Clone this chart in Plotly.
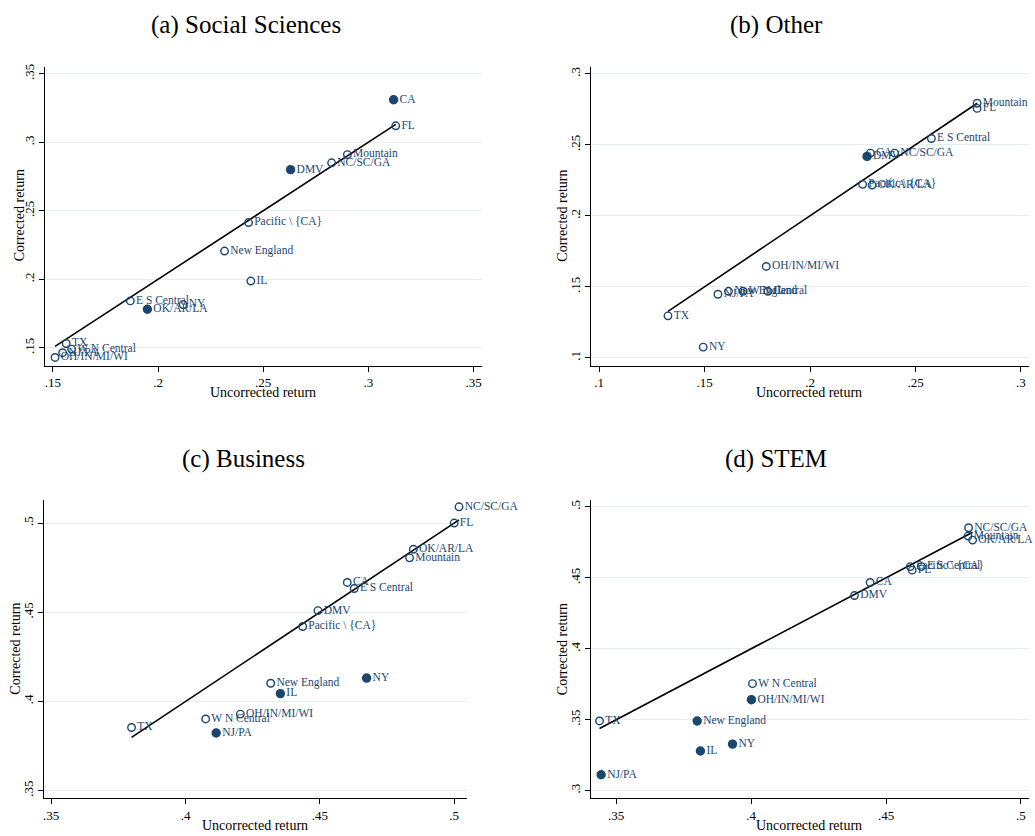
import plotly.graph_objects as go

regions = ["CA", "FL", "Mountain", "NC/SC/GA", "DMV", "Pacific \\ {CA}", "New England", "IL",
           "E S Central", "NY", "OK/AR/LA", "TX", "W N Central", "NJ/PA", "OH/IN/MI/WI"]

panel_titles = ["(a) Social Sciences", "(b) Other", "(c) Business", "(d) STEM"]

# Social Sciences
soc_uncorr = [.312, .313, .290, .2825, .263, .243, .2316, .2441, .1868, .2119, .1949, .1563, .1589, .1546, .151]
soc_corr = [.331, .312, .291, .285, .280, .2414, .2206, .1987, .1842, .1815, .1781, .1531, .149, .1464, .1429]
soc_sig = [1, 0, 0, 0, 1, 0, 0, 0, 0, 0, 1, 0, 0, 0, 0]

# Other
oth_uncorr = [.2286, .2792, .2792, .2401, .227, .2249, .1613, .180, .2575, .1493, .2294, .1326, .1682, .1563, .1792]
oth_corr = [.2441, .2756, .2792, .2441, .2418, .2221, .1468, .1468, .2544, .1075, .2216, .1295, .1468, .1447, .1643]
oth_sig = [0, 0, 0, 0, 1, 0, 0, 0, 0, 0, 0, 0, 0, 0, 0]

# Business
bus_uncorr = [.4602, .500, .4834, .5018, .4493, .4436, .4317, .4353, .4628, .4674, .4848, .3799, .4075, .4114, .4204]
bus_corr = [.4667, .500, .4805, .5091, .4509, .442, .4102, .4044, .4633, .4131, .4853, .3854, .3902, .3823, .3929]
bus_sig = [0, 0, 0, 0, 0, 0, 0, 1, 0, 1, 0, 0, 0, 1, 0]

# STEM
stem_uncorr = [.4441, .4597, .4804, .4806, .4383, .459, .380, .3812, .4631, .3931, .4821, .3438, .4005, .3444, .4001]
stem_corr = [.4467, .4554, .4794, .4853, .4375, .4579, .3491, .3279, .4579, .3328, .4766, .3491, .3754, .3112, .3641]
stem_sig = [0, 0, 0, 0, 0, 0, 1, 1, 0, 1, 0, 0, 0, 1, 1]

x_ticks = [[.15, .2, .25, .3, .35], [.1, .15, .2, .25, .3], [.35, .4, .45, .5], [.35, .4, .45, .5]]
y_ticks = [[.15, .2, .25, .3, .35], [.1, .15, .2, .25, .3], [.35, .4, .45, .5], [.3, .35, .4, .45, .5]]

panels = [(soc_uncorr, soc_corr, soc_sig), (oth_uncorr, oth_corr, oth_sig),
          (bus_uncorr, bus_corr, bus_sig), (stem_uncorr, stem_corr, stem_sig)]

W, H = 1035, 836
NAVY = "#1a476f"
SERIF = "Liberation Serif, Times New Roman, serif"

# panel geometry in pixels: (left, right, top, bottom)
geom = [(44, 481, 64, 364), (591, 1029, 64, 364), (43, 466, 499, 798), (591, 1029, 499, 798)]
xr = [(.1462, .3538), (.0963, .3038), (.3473, .5046), (.3408, .503)]
yr = [(.1369, .3551), (.0944, .3049), (.3458, .5128), (.2947, .5047)]
title_pos = [(245, 22), (776, 22), (243, 458), (776, 458)]
xtitle_pos = [(262, 391), (809, 391), (254, 825), (809, 825)]
ytitle_pos = [(18, 213), (562, 213), (15, 648), (562, 648)]


def fmt(v):
    s = ("%g" % v)
    return s[1:] if s.startswith("0") else s


def px(x, y):
    return x / W, 1 - y / H


fig = go.Figure()
layout = dict(width=W, height=H, margin=dict(l=0, r=0, t=0, b=0),
              paper_bgcolor="white", plot_bgcolor="white", showlegend=False,
              font=dict(family=SERIF, color="black"))
annotations = []

for i, (ux, cy, sig) in enumerate(panels):
    n = "" if i == 0 else str(i + 1)
    xa, ya = "x" + n, "y" + n
    l, r, t, b = geom[i]
    # 45-degree reference line
    lo, hi = min(ux), max(ux)
    fig.add_trace(go.Scatter(x=[lo, hi], y=[lo, hi], mode="lines",
                             line=dict(color="black", width=1.6), xaxis=xa, yaxis=ya,
                             hoverinfo="skip"))
    for filled in (0, 1):
        idx = [k for k in range(len(regions)) if sig[k] == filled]
        fig.add_trace(go.Scatter(
            x=[ux[k] for k in idx], y=[cy[k] for k in idx],
            text=[regions[k] for k in idx], mode="markers+text",
            textposition="middle right", cliponaxis=False,
            textfont=dict(family=SERIF, size=11.5, color=NAVY),
            marker=dict(symbol="circle" if filled else "circle-open", size=8 if filled else 7.5,
                        color=NAVY, line=dict(color=NAVY, width=1.4)),
            xaxis=xa, yaxis=ya))
    layout["xaxis" + n] = dict(
        domain=[l / W, r / W], range=list(xr[i]), anchor=ya,
        tickmode="array", tickvals=x_ticks[i], ticktext=[fmt(v) for v in x_ticks[i]],
        ticks="outside", ticklen=5, tickcolor="black", showline=True, linecolor="black",
        linewidth=1, showgrid=False, zeroline=False, tickfont=dict(size=13))
    layout["yaxis" + n] = dict(
        domain=[1 - b / H, 1 - t / H], range=list(yr[i]), anchor=xa,
        tickmode="array", tickvals=y_ticks[i], ticktext=[fmt(v) for v in y_ticks[i]],
        ticks="outside", ticklen=5, tickcolor="black", tickangle=-90, showline=True,
        linecolor="black", linewidth=1, showgrid=True, gridcolor="#e4edf0", gridwidth=1,
        zeroline=False, tickfont=dict(size=13))
    tx, ty = px(*title_pos[i])
    annotations.append(dict(text=panel_titles[i], x=tx, y=ty, xref="paper", yref="paper",
                            xanchor="center", yanchor="middle", showarrow=False,
                            font=dict(family=SERIF, size=25, color="black")))
    ax_, ay_ = px(*xtitle_pos[i])
    annotations.append(dict(text="Uncorrected return", x=ax_, y=ay_, xref="paper", yref="paper",
                            xanchor="center", yanchor="middle", showarrow=False,
                            font=dict(family=SERIF, size=14, color="black")))
    bx_, by_ = px(*ytitle_pos[i])
    annotations.append(dict(text="Corrected return", x=bx_, y=by_, xref="paper", yref="paper",
                            xanchor="center", yanchor="middle", showarrow=False, textangle=-90,
                            font=dict(family=SERIF, size=14, color="black")))

layout["annotations"] = annotations
fig.update_layout(**layout)
fig.write_html("out.html", config={"displayModeBar": False},
               post_script="document.body.style.margin='0';")
